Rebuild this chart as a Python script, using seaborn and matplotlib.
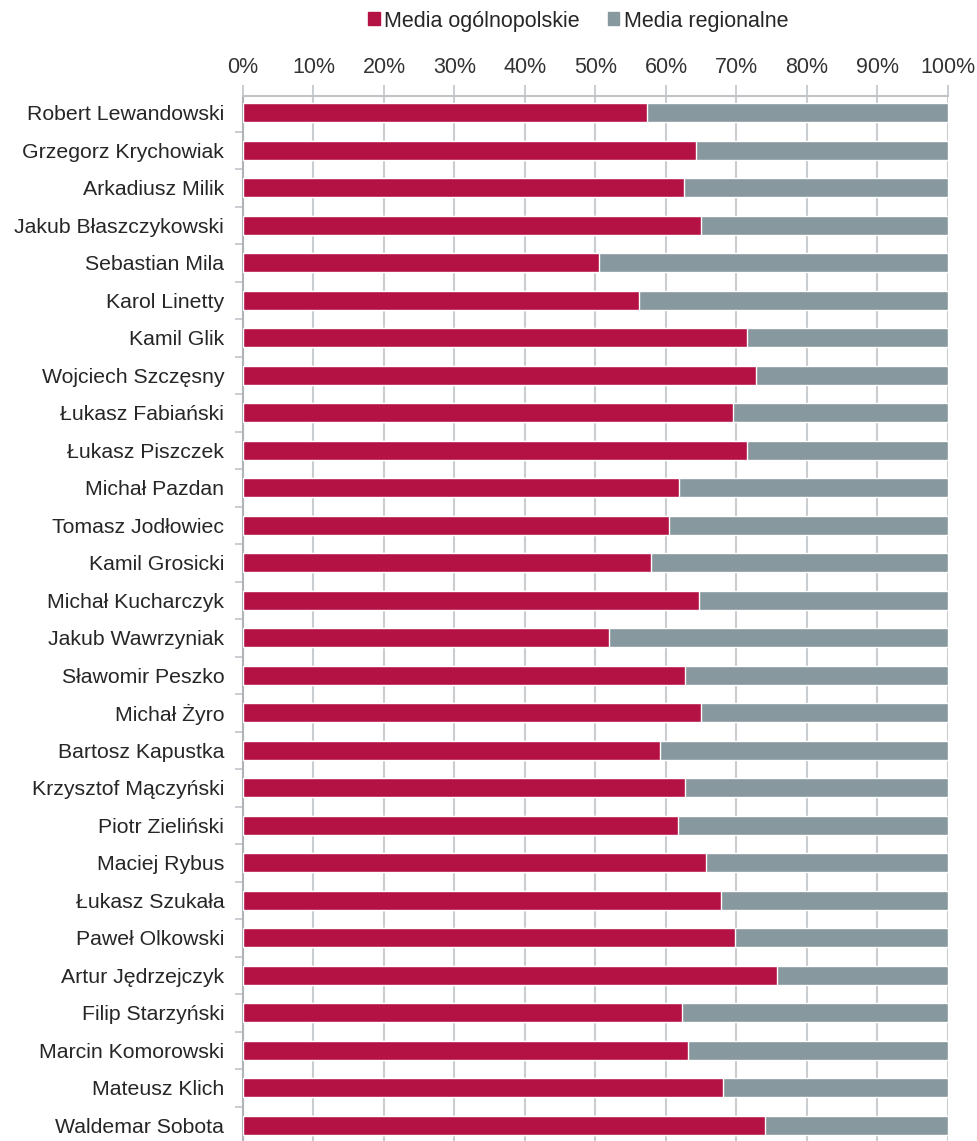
import matplotlib
matplotlib.use("Agg")
import matplotlib.pyplot as plt
import seaborn as sns
import numpy as np
import pandas as pd
from matplotlib.patches import Patch
from matplotlib.ticker import FixedLocator, PercentFormatter

players = ["Robert Lewandowski", "Grzegorz Krychowiak", "Arkadiusz Milik",
           "Jakub Błaszczykowski", "Sebastian Mila", "Karol Linetty", "Kamil Glik",
           "Wojciech Szczęsny", "Łukasz Fabiański", "Łukasz Piszczek", "Michał Pazdan",
           "Tomasz Jodłowiec", "Kamil Grosicki", "Michał Kucharczyk", "Jakub Wawrzyniak",
           "Sławomir Peszko", "Michał Żyro", "Bartosz Kapustka", "Krzysztof Mączyński",
           "Piotr Zieliński", "Maciej Rybus", "Łukasz Szukała", "Paweł Olkowski",
           "Artur Jędrzejczyk", "Filip Starzyński", "Marcin Komorowski", "Mateusz Klich",
           "Waldemar Sobota"]
national = [57.3, 64.3, 62.6, 65.0, 50.5, 56.2, 71.5, 72.8, 69.5, 71.5, 61.8, 60.4,
            57.9, 64.7, 51.9, 62.7, 65.0, 59.1, 62.7, 61.7, 65.7, 67.8, 69.8, 75.7,
            62.3, 63.1, 68.1, 74.0]
regional = [100 - v for v in national]
series_names = ["Media ogólnopolskie", "Media regionalne"]
ticks = [0, 10, 20, 30, 40, 50, 60, 70, 80, 90, 100]

RED = "#B41245"
GRAY = "#87989F"

sns.set_theme(style="white")
plt.rcParams['font.family'] = ['Liberation Sans', 'DejaVu Sans']

df = pd.DataFrame({"player": players, "national": national, "regional": regional})
df["total"] = df["national"] + df["regional"]

fig = plt.figure(figsize=(9.78, 11.41), dpi=100)
ax = fig.add_axes([243/978, 0.0, (948-243)/978, 1 - 96/1141])

for x in ticks:
    ax.axvline(x, color="#C9CDD0", lw=1.5, zorder=0)

sns.barplot(data=df, x="total", y="player", color=GRAY, width=0.5,
            saturation=1, ax=ax, zorder=2)
sns.barplot(data=df, x="national", y="player", color=RED, width=0.5,
            saturation=1, ax=ax, zorder=3)

ax.set_xlim(0, 100)
ax.set_ylim(len(players) - 0.58, -0.45)
ax.xaxis.set_major_locator(FixedLocator(ticks))
ax.xaxis.set_major_formatter(PercentFormatter(decimals=0))
ax.xaxis.tick_top()
ax.tick_params(axis="x", which="major", top=True, bottom=False, length=8, width=1.2,
               color="#C0C4C8", labelsize=15.5, labelcolor="#333333", pad=5)
ax.set_xlabel("")
ax.set_ylabel("")

ax.tick_params(axis="y", which="major", left=False, length=0, labelsize=15.3,
               labelcolor="#262626", pad=13.5)
ax.yaxis.set_minor_locator(FixedLocator(np.arange(-0.5, len(players), 1)))
ax.tick_params(axis="y", which="minor", left=True, length=6, width=1.2, color="#C0C4C8")

for s in ["right", "bottom"]:
    ax.spines[s].set_visible(False)
ax.spines["top"].set_color("#C0C4C8")
ax.spines["top"].set_linewidth(1.5)
ax.spines["left"].set_color("#B0B4B8")
ax.spines["left"].set_linewidth(1.5)

handles = [Patch(color=RED, label=series_names[0]), Patch(color=GRAY, label=series_names[1])]
fig.legend(handles=handles, loc="center", bbox_to_anchor=(578/978, 1 - 21/1141), ncol=2,
           frameon=False, fontsize=15.5, handlelength=0.55, handleheight=0.55,
           handletextpad=0.2, columnspacing=1.3, labelcolor="#262626")

fig.savefig("out.png", dpi=100)
